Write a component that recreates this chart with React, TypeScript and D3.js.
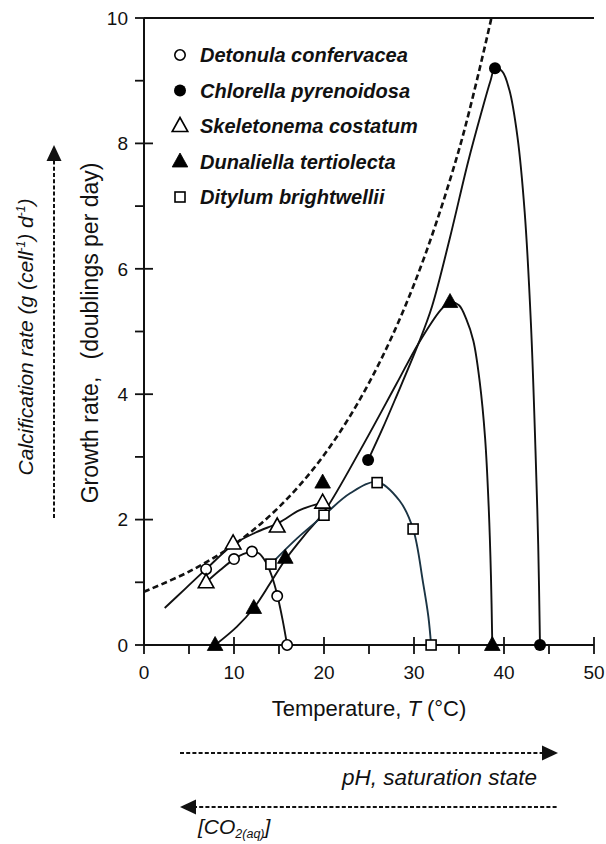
import React from "react";
import * as d3 from "d3";

// ---- data ----
const tempTicks = [0, 10, 20, 30, 40, 50];
const tempMinorTicks = [5, 15, 25, 35, 45];
const growthTicks = [0, 2, 4, 6, 8, 10];
const growthMinorTicks = [1, 3, 5, 7, 9];

const speciesNames = [
  "Detonula confervacea",
  "Chlorella pyrenoidosa",
  "Skeletonema costatum",
  "Dunaliella tertiolecta",
  "Ditylum brightwellii",
];
const speciesMarkers = ["circleOpen", "circleFilled", "triOpen", "triFilled", "squareOpen"];

// observed points
const detonulaT = [6.9, 10, 12, 14.8, 15.9];
const detonulaV = [1.21, 1.37, 1.49, 0.78, 0];
const chlorellaT = [24.9, 39, 44];
const chlorellaV = [2.95, 9.2, 0];
const skeletonemaT = [6.9, 9.9, 14.8, 19.85];
const skeletonemaV = [1.0, 1.62, 1.89, 2.27];
const dunaliellaT = [7.9, 12.2, 15.7, 19.85, 34, 38.7];
const dunaliellaV = [0, 0.59, 1.39, 2.59, 5.47, 0];
const ditylumT = [14.1, 20, 25.9, 29.9, 31.9];
const ditylumV = [1.29, 2.07, 2.59, 1.85, 0];

// fitted curves (traced)
const detonulaCurveT = [6.9, 8.5, 10, 11, 12, 12.8, 13.5, 14.2, 14.8, 15.4, 15.9];
const detonulaCurveV = [1.0, 1.2, 1.37, 1.45, 1.49, 1.46, 1.33, 1.1, 0.8, 0.4, 0];
const skeletonemaCurveT = [2.3, 4.6, 6.9, 9.9, 12.5, 15, 17.3, 19.85];
const skeletonemaCurveV = [0.59, 0.9, 1.21, 1.6, 1.8, 1.95, 2.15, 2.27];
const dunaliellaCurveT = [7.9, 10.3, 12.2, 14, 15.7, 18, 20, 24, 28, 30.5, 33, 34, 35, 35.8, 36.6, 37.3, 37.9, 38.3, 38.55, 38.7];
const dunaliellaCurveV = [0, 0.29, 0.59, 0.98, 1.36, 1.78, 2.12, 3.1, 4.15, 4.81, 5.35, 5.47, 5.42, 5.2, 4.85, 4.2, 3.3, 2.2, 1.1, 0];
const chlorellaCurveT = [24.9, 26.5, 28, 30.5, 32, 34, 36, 37.5, 38.5, 39, 39.8, 40.6, 41.5, 42.3, 43, 43.5, 43.8, 44];
const chlorellaCurveV = [2.95, 3.45, 3.95, 4.81, 5.4, 6.5, 7.7, 8.5, 9.0, 9.2, 9.15, 8.85, 8.1, 6.9, 5.1, 3.1, 1.6, 0];
const ditylumCurveT = [14.1, 17, 20, 22.9, 25.9, 28.4, 29.9, 31, 31.6, 31.9];
const ditylumCurveV = [1.29, 1.7, 2.07, 2.42, 2.6, 2.3, 1.85, 1.0, 0.45, 0];

// upper envelope (dashed)
const envelopeT = [0, 5, 10, 15, 20, 25, 30, 35, 38.6];
const envelopeV = [0.85, 1.17, 1.6, 2.2, 3.03, 4.18, 5.75, 7.9, 10];

const FONT = "Arial, 'Liberation Sans', Helvetica, sans-serif";

function zip(t: number[], v: number[]): [number, number][] {
  return t.map((d, i) => [d, v[i]]);
}

function Marker({ type, cx, cy }: { type: string; cx: number; cy: number }) {
  const sw = 1.6;
  if (type === "circleOpen")
    return <circle cx={cx} cy={cy} r={5.2} fill="#fff" stroke="#000" strokeWidth={sw} />;
  if (type === "circleFilled") return <circle cx={cx} cy={cy} r={6} fill="#000" />;
  if (type === "triOpen" || type === "triFilled") {
    const pts = `${cx},${cy - 8.5} ${cx + 7.8},${cy + 5.5} ${cx - 7.8},${cy + 5.5}`;
    return (
      <polygon
        points={pts}
        fill={type === "triFilled" ? "#000" : "#fff"}
        stroke="#000"
        strokeWidth={type === "triFilled" ? 0.8 : sw}
        strokeLinejoin="miter"
      />
    );
  }
  return <rect x={cx - 5} y={cy - 5} width={10} height={10} fill="#fff" stroke="#000" strokeWidth={sw} />;
}

export default function App() {
  const x = d3.scaleLinear().domain([0, 50]).range([144, 594]);
  const y = d3.scaleLinear().domain([0, 10]).range([645, 18]);
  const line = d3
    .line<[number, number]>()
    .x((d) => x(d[0]))
    .y((d) => y(d[1]))
    .curve(d3.curveCatmullRom.alpha(0.5));

  const curves = [
    { pts: zip(detonulaCurveT, detonulaCurveV), color: "#111" },
    { pts: zip(skeletonemaCurveT, skeletonemaCurveV), color: "#111" },
    { pts: zip(dunaliellaCurveT, dunaliellaCurveV), color: "#111" },
    { pts: zip(chlorellaCurveT, chlorellaCurveV), color: "#111" },
    { pts: zip(ditylumCurveT, ditylumCurveV), color: "#1b3444" },
  ];

  const series = [
    { pts: zip(detonulaT, detonulaV), m: speciesMarkers[0] },
    { pts: zip(skeletonemaT, skeletonemaV), m: speciesMarkers[2] },
    { pts: zip(ditylumT, ditylumV), m: speciesMarkers[4] },
    { pts: zip(dunaliellaT, dunaliellaV), m: speciesMarkers[3] },
    { pts: zip(chlorellaT, chlorellaV), m: speciesMarkers[1] },
  ];

  const legendY = [55, 90.5, 126, 161.5, 197];

  return (
    <svg
      width={606}
      height={844}
      style={{ position: "absolute", left: 0, top: 0, background: "#fff" }}
      fontFamily={FONT}
    >
      <defs>
        <clipPath id="plotclip">
          <rect x={x(0)} y={y(10)} width={x(50) - x(0)} height={y(0) - y(10)} />
        </clipPath>
      </defs>
      <rect width={606} height={844} fill="#fff" />

      {/* envelope dashed */}
      <path
        d={line(zip(envelopeT, envelopeV)) || ""}
        fill="none"
        stroke="#111"
        strokeWidth={2.6}
        strokeDasharray="6,3.5"
        clipPath="url(#plotclip)"
      />

      {/* fitted curves */}
      {curves.map((c, i) => (
        <path key={i} d={line(c.pts) || ""} fill="none" stroke={c.color} strokeWidth={1.9} />
      ))}

      {/* axes */}
      <line x1={x(0)} x2={x(0)} y1={y(10)} y2={y(0)} stroke="#111" strokeWidth={2} />
      <line x1={x(0)} x2={x(50)} y1={y(0)} y2={y(0)} stroke="#111" strokeWidth={2} />
      <line x1={x(0)} x2={x(50)} y1={y(10)} y2={y(10)} stroke="#111" strokeWidth={2} />

      {growthTicks.map((t) => (
        <g key={"gy" + t}>
          <line x1={x(0) - 9} x2={x(0) + 9} y1={y(t)} y2={y(t)} stroke="#111" strokeWidth={1.8} />
          <text x={x(0) - 16} y={y(t)} dy="0.36em" textAnchor="end" fontSize={19} fill="#111">
            {t}
          </text>
        </g>
      ))}
      {growthMinorTicks.map((t) => (
        <line key={"gm" + t} x1={x(0) - 9} x2={x(0)} y1={y(t)} y2={y(t)} stroke="#111" strokeWidth={1.8} />
      ))}
      {tempTicks.map((t) => (
        <g key={"tx" + t}>
          <line x1={x(t)} x2={x(t)} y1={y(0) - 8} y2={y(0) + 9} stroke="#111" strokeWidth={1.8} />
          <text x={x(t)} y={y(0) + 27} dy="0.36em" textAnchor="middle" fontSize={19} fill="#111">
            {t}
          </text>
        </g>
      ))}
      {tempMinorTicks.map((t) => (
        <line key={"tm" + t} x1={x(t)} x2={x(t)} y1={y(0)} y2={y(0) + 9} stroke="#111" strokeWidth={1.8} />
      ))}

      {/* markers */}
      {series.map((s, i) =>
        s.pts.map((p, j) => <Marker key={i + "-" + j} type={s.m} cx={x(p[0])} cy={y(p[1])} />)
      )}

      {/* legend */}
      {speciesNames.map((n, i) => (
        <g key={n}>
          <Marker type={speciesMarkers[i]} cx={180} cy={legendY[i]} />
          <text
            x={200}
            y={legendY[i]}
            dy="0.36em"
            fontSize={20}
            fontWeight="bold"
            fontStyle="italic"
            fill="#111"
          >
            {n}
          </text>
        </g>
      ))}

      {/* x title */}
      <text x={369} y={708} dy="0.36em" textAnchor="middle" fontSize={22} fill="#111">
        Temperature, <tspan fontStyle="italic">T</tspan> (°C)
      </text>

      {/* y titles */}
      <g transform="translate(90,440) rotate(-90)">
        <text x={0} y={0} dy="0.36em" textAnchor="middle" fontSize={23} fill="#111">
          Growth rate,
        </text>
      </g>
      <g transform="translate(90,261) rotate(-90)">
        <text x={0} y={0} dy="0.36em" textAnchor="middle" fontSize={23} fill="#111">
          (doublings per day)
        </text>
      </g>
      <g transform="translate(25,337) rotate(-90)">
        <text x={0} y={0} dy="0.36em" textAnchor="middle" fontSize={21} fontStyle="italic" fill="#111">
          Calcification rate (g (cell
          <tspan fontSize={12} dy={-8}>-1</tspan>
          <tspan dy={8}>) d</tspan>
          <tspan fontSize={12} dy={-8}>-1</tspan>
          <tspan dy={8}>)</tspan>
        </text>
      </g>

      {/* left dashed arrow */}
      <line x1={54} x2={54} y1={518} y2={158} stroke="#111" strokeWidth={2} strokeDasharray="4,2.2" />
      <polygon points="54,145 61.5,161 46.5,161" fill="#111" />

      {/* bottom arrows */}
      <line x1={180} x2={545} y1={753} y2={753} stroke="#111" strokeWidth={2} strokeDasharray="4,2.2" />
      <polygon points="558,753 542,745.5 542,760.5" fill="#111" />
      <text x={537} y={777} dy="0.36em" textAnchor="end" fontSize={22.5} fontStyle="italic" fill="#111">
        pH, saturation state
      </text>
      <line x1={193} x2={557} y1={807} y2={807} stroke="#111" strokeWidth={2} strokeDasharray="4,2.2" />
      <polygon points="180,807 196,799.5 196,814.5" fill="#111" />
      <text x={198} y={826} dy="0.36em" fontSize={21} fontStyle="italic" fill="#111">
        [CO<tspan fontSize={12.5} dy={4}>2(aq)</tspan>
        <tspan dy={-4}>]</tspan>
      </text>
    </svg>
  );
}
